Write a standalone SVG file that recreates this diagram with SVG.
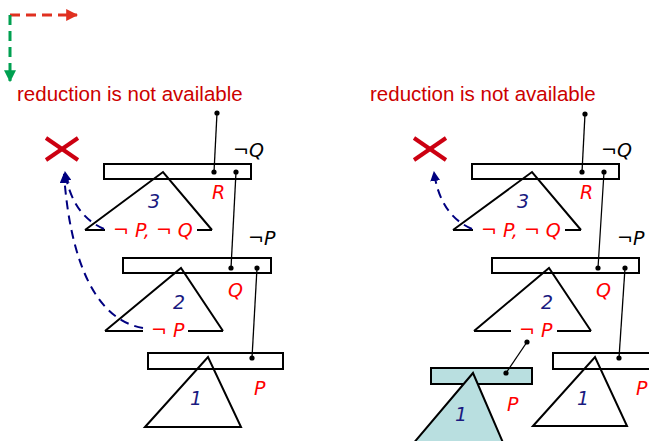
<svg xmlns="http://www.w3.org/2000/svg" width="649" height="441" viewBox="0 0 649 441">
<defs>
<style>
.box{fill:none;stroke:#000;stroke-width:2}
.tri{fill:none;stroke:#000;stroke-width:2;stroke-linejoin:miter}
.link{stroke:#000;stroke-width:1.3}
.dot{fill:#000}
.lbl{font-family:"DejaVu Sans",sans-serif;font-style:italic;font-size:19px}
.red{fill:#ff0000}
.blk{fill:#000}
.num{fill:#1a1a80}
.msg{font-family:"Liberation Sans",Arial,sans-serif;font-size:20.5px;fill:#cc0000}
.xm{stroke:#cc0011;stroke-width:4;stroke-linecap:butt}
.arc{fill:none;stroke:#000080;stroke-width:2;stroke-dasharray:9,6}
</style>
<marker id="ah" viewBox="0 0 10 10" refX="9" refY="5" markerWidth="10" markerHeight="10" markerUnits="userSpaceOnUse" orient="auto"><path d="M0,0L10,5L0,10z" fill="#000080"/></marker>
<marker id="ahr" viewBox="0 0 10 10" refX="9" refY="5" markerWidth="12" markerHeight="12" markerUnits="userSpaceOnUse" orient="auto"><path d="M0,0L10,5L0,10z" fill="#e03020"/></marker>
<marker id="ahg" viewBox="0 0 10 10" refX="9" refY="5" markerWidth="12" markerHeight="12" markerUnits="userSpaceOnUse" orient="auto"><path d="M0,0L10,5L0,10z" fill="#00a050"/></marker>
</defs>

<g id="legend">
<line x1="10" y1="15" x2="77" y2="15" stroke="#e03020" stroke-width="3" stroke-dasharray="10,6" marker-end="url(#ahr)"/>
<line x1="10" y1="15" x2="10" y2="81" stroke="#00a050" stroke-width="3" stroke-dasharray="10,6" marker-end="url(#ahg)"/>
</g>

<text class="msg" x="17" y="101">reduction is not available</text>
<text class="msg" x="370" y="101">reduction is not available</text>

<g id="x-left"><line class="xm" x1="46" y1="138" x2="78" y2="160"/><line class="xm" x1="78" y1="138" x2="46" y2="160"/></g>
<g id="x-right"><line class="xm" x1="414" y1="138" x2="446" y2="160"/><line class="xm" x1="446" y1="138" x2="414" y2="160"/></g>

<!-- left tree -->
<g id="L3">
<rect class="box" x="104" y="164" width="147" height="15"/>
<polyline class="tri" points="85,230 163,172 212,230"/>
<line class="tri" x1="85" y1="230" x2="105" y2="230"/>
<line class="tri" x1="197" y1="230" x2="212" y2="230"/>
<text class="lbl num" x="148" y="208">3</text>
<text class="lbl red" x="113" y="237">¬ P, ¬ Q</text>
<text class="lbl red" x="212" y="199">R</text>
<text class="lbl blk" x="233" y="157">¬Q</text>
</g>
<g id="L2">
<rect class="box" x="123" y="258" width="148" height="15"/>
<polyline class="tri" points="105,331 181,268 223,331"/>
<line class="tri" x1="105" y1="331" x2="143" y2="331"/>
<line class="tri" x1="188" y1="331" x2="223" y2="331"/>
<text class="lbl num" x="173" y="309">2</text>
<text class="lbl red" x="151" y="337">¬ P</text>
<text class="lbl red" x="228" y="297">Q</text>
<text class="lbl blk" x="248" y="245">¬P</text>
</g>
<g id="L1">
<rect class="box" x="148" y="353" width="135" height="16"/>
<polygon class="tri" points="145,427 208,357 241,427"/>
<text class="lbl num" x="190" y="405">1</text>
<text class="lbl red" x="254" y="395">P</text>
</g>

<!-- right tree -->
<g id="R3">
<rect class="box" x="472" y="164" width="147" height="15"/>
<polyline class="tri" points="453,230 532,172 581,230"/>
<line class="tri" x1="453" y1="230" x2="473" y2="230"/>
<line class="tri" x1="565" y1="230" x2="581" y2="230"/>
<text class="lbl num" x="517" y="208">3</text>
<text class="lbl red" x="481" y="237">¬ P, ¬ Q</text>
<text class="lbl red" x="580" y="199">R</text>
<text class="lbl blk" x="601" y="157">¬Q</text>
</g>
<g id="R2">
<rect class="box" x="492" y="258" width="147" height="15"/>
<polyline class="tri" points="474,331 549,268 591,331"/>
<line class="tri" x1="474" y1="331" x2="511" y2="331"/>
<line class="tri" x1="557" y1="331" x2="591" y2="331"/>
<text class="lbl num" x="541" y="309">2</text>
<text class="lbl red" x="519" y="337">¬ P</text>
<text class="lbl red" x="596" y="297">Q</text>
<text class="lbl blk" x="617" y="245">¬P</text>
</g>
<g id="R1">
<rect class="box" x="553" y="353" width="110" height="16"/>
<polygon class="tri" points="533,426 595,357 627,426"/>
<text class="lbl num" x="577" y="405">1</text>
<text class="lbl red" x="636" y="395">P</text>
</g>
<g id="R1new">
<rect x="431" y="368" width="101" height="16" fill="#b9dfe0" stroke="#000" stroke-width="2"/>
<polygon points="412,445 473,373 504,445" fill="#b9dfe0" stroke="#000" stroke-width="2"/>
<text class="lbl num" x="455" y="421">1</text>
<text class="lbl red" x="507" y="411">P</text>
</g>

<g id="connectors">
<line class="link" x1="217" y1="113" x2="214" y2="172"/>
<circle class="dot" cx="217" cy="113" r="2.6"/><circle class="dot" cx="214" cy="172" r="2.6"/>
<line class="link" x1="236" y1="172" x2="231" y2="268"/>
<circle class="dot" cx="236" cy="172" r="2.6"/><circle class="dot" cx="231" cy="268" r="2.6"/>
<line class="link" x1="257" y1="268" x2="252" y2="358"/>
<circle class="dot" cx="257" cy="268" r="2.6"/><circle class="dot" cx="252" cy="358" r="2.6"/>

<line class="link" x1="585" y1="114" x2="582" y2="172"/>
<circle class="dot" cx="585" cy="114" r="2.6"/><circle class="dot" cx="582" cy="172" r="2.6"/>
<line class="link" x1="604" y1="172" x2="598" y2="268"/>
<circle class="dot" cx="604" cy="172" r="2.6"/><circle class="dot" cx="598" cy="268" r="2.6"/>
<line class="link" x1="625" y1="268" x2="619" y2="358"/>
<circle class="dot" cx="625" cy="268" r="2.6"/><circle class="dot" cx="619" cy="358" r="2.6"/>
<line class="link" x1="527" y1="342" x2="506" y2="373"/>
<circle class="dot" cx="527" cy="342" r="2.6"/><circle class="dot" cx="506" cy="373" r="2.6"/>

<path class="arc" d="M104,229 Q72,215 65,172" marker-end="url(#ah)"/>
<path class="arc" d="M143,328 C95,320 70,260 64,174" marker-end="url(#ah)"/>
<path class="arc" d="M472,229 Q440,215 434,172" marker-end="url(#ah)"/>
</g>
</svg>
